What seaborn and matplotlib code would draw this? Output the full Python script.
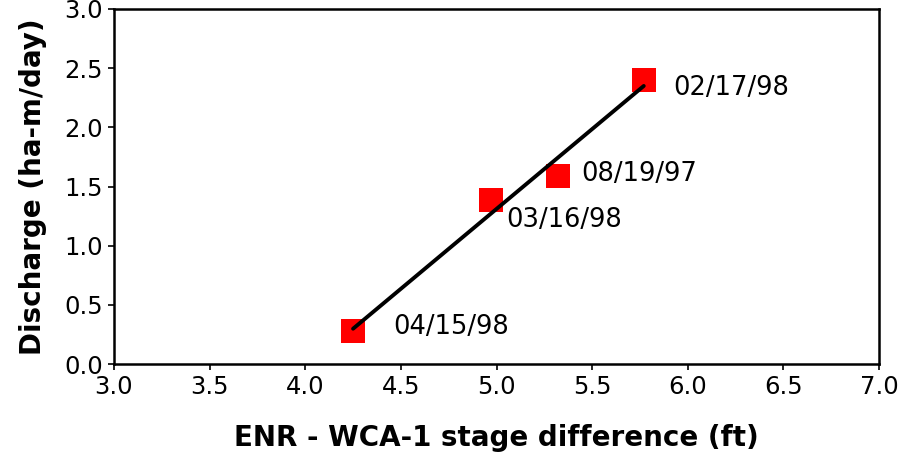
import numpy as np
import pandas as pd
import seaborn as sns
import matplotlib
matplotlib.use("Agg")
import matplotlib.pyplot as plt

# values
stage_diff = [4.25, 4.97, 5.32, 5.77]
discharge = [0.28, 1.39, 1.59, 2.40]
dates = ['04/15/98', '03/16/98', '08/19/97', '02/17/98']
label_offsets = [(29, 3), (11, -15), (17, 1), (21, -6)]  # in points

df = pd.DataFrame({'stage': stage_diff, 'discharge': discharge, 'date': dates})

sns.set_style('ticks')
plt.rcParams['font.family'] = ['DejaVu Sans']
plt.rcParams['text.color'] = 'black'
plt.rcParams['axes.labelcolor'] = 'black'

fig, ax = plt.subplots(figsize=(9.1, 4.59), dpi=100)
fig.subplots_adjust(left=114/910, right=879/910, top=1-9/459, bottom=1-364/459)

# fitted line over the data range
sns.regplot(data=df, x='stage', y='discharge', scatter=False, ci=None,
            truncate=True, color='black', line_kws={'linewidth': 2.8}, ax=ax)
sns.scatterplot(data=df, x='stage', y='discharge', marker='s', s=290,
                color='#ff0000', linewidth=0, zorder=1, ax=ax)

for x, y, d, off in zip(df['stage'], df['discharge'], df['date'], label_offsets):
    ax.annotate(d, xy=(x, y), xytext=off, textcoords='offset points',
                ha='left', va='center', fontsize=18.5)

ax.set_xlim(3, 7)
ax.set_ylim(0, 3)
ax.set_xticks(np.arange(3, 7.01, 0.5))
ax.set_yticks(np.arange(0, 3.01, 0.5))
ax.set_xticklabels([f'{v:.1f}' for v in np.arange(3, 7.01, 0.5)])
ax.set_yticklabels([f'{v:.1f}' for v in np.arange(0, 3.01, 0.5)])
ax.tick_params(direction='out', length=4, width=1.2, labelsize=17.5,
               colors='black', pad=4)

for sp in ax.spines.values():
    sp.set_visible(True)
    sp.set_color('black')
    sp.set_linewidth(1.8)

ax.set_xlabel('ENR - WCA-1 stage difference (ft)', fontsize=20, fontweight='bold', labelpad=18)
ax.set_ylabel('Discharge (ha-m/day)', fontsize=20, fontweight='bold', labelpad=12)

plt.savefig('out.png', dpi=100)
plt.close()
